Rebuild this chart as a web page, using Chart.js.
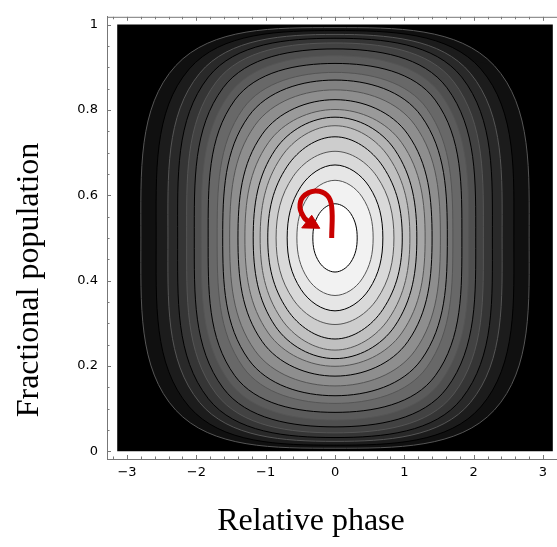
<!DOCTYPE html>
<html>
<head>
<meta charset="utf-8">
<script src="https://cdn.jsdelivr.net/npm/chart.js@4.4.1/dist/chart.umd.min.js"></script>
<style>
  html, body { margin: 0; padding: 0; background: #fff; }
</style>
</head>
<body>
<canvas id="myChart" width="557" height="547"></canvas>
<script>
// plot window: relative phase (rad) x fractional population
const phaseRange = [-3.1416, 3.1416];
const popRange = [0, 1];
// frame sits a little outside the plot window
const axisPhase = [-3.289, 3.202];
const axisPop = [-0.0183, 1.0183];

const xTickVals = [-3, -2, -1, 0, 1, 2, 3];
const xTickLabels = ['−3', '−2', '−1', '0', '1', '2', '3'];
const yTickVals = [0, 0.2, 0.4, 0.6, 0.8, 1];
const yTickLabels = ['0', '0.2', '0.4', '0.6', '0.8', '1'];

// contour lines, inner -> outer
// centre of the pattern
const centerPhase = 0;
const centerPop = 0.5;
// half width in phase along population 0.5
const halfPhase = [0.32, 0.55, 0.69, 0.85, 0.97, 1.08, 1.18, 1.30, 1.40, 1.52,
                   1.62, 1.70, 1.83, 1.93, 2.03, 2.14, 2.27, 2.41, 2.58, 2.80];
// half height in population along phase 0
const halfPop = [0.080, 0.135, 0.171, 0.203, 0.237, 0.263, 0.283, 0.301, 0.324, 0.347,
                 0.370, 0.388, 0.409, 0.427, 0.443, 0.457, 0.468, 0.477, 0.486, 0.493];
// corner point on the diagonal (offset from centre)
const cornerPhase = [0.227, 0.391, 0.490, 0.604, 0.689, 0.778, 0.861, 0.962, 1.050, 1.155,
                     1.247, 1.326, 1.446, 1.525, 1.614, 1.712, 1.827, 1.952, 2.103, 2.296];
const cornerPop = [0.057, 0.096, 0.121, 0.144, 0.168, 0.189, 0.207, 0.223, 0.243, 0.264,
                   0.285, 0.303, 0.323, 0.337, 0.352, 0.366, 0.377, 0.386, 0.396, 0.404];
// gray level of the band just inside each contour
const shade = [255, 242, 230, 217, 205, 192, 180, 167, 154, 142,
               129, 116, 104, 91, 79, 66, 53, 41, 28, 16];

// red arrow
const arrowPhase = [-0.048, -0.048, -0.115, -0.288, -0.462, -0.505, -0.447, -0.389];
const arrowPop = [0.500, 0.573, 0.600, 0.610, 0.596, 0.571, 0.548, 0.539];
const headPhase = [-0.480, -0.336, -0.220, -0.480];
const headPop = [0.5235, 0.553, 0.5225, 0.5235];

function ring(i) {
  const a = halfPhase[i], b = halfPop[i], ca = cornerPhase[i], cb = cornerPop[i];
  const x0 = centerPhase, y0 = centerPop;
  // loop goes round once more past the top so the spline closes smoothly
  return [
    {x: x0 - ca, y: y0 + cb},
    {x: x0, y: y0 + b},
    {x: x0 + ca, y: y0 + cb},
    {x: x0 + a, y: y0},
    {x: x0 + ca, y: y0 - cb},
    {x: x0, y: y0 - b},
    {x: x0 - ca, y: y0 - cb},
    {x: x0 - a, y: y0},
    {x: x0 - ca, y: y0 + cb},
    {x: x0, y: y0 + b},
    {x: x0 + ca, y: y0 + cb}
  ];
}

const datasets = [];

// arrow head and stem on top
datasets.push({
  data: headPhase.map((v, i) => ({x: v, y: headPop[i]})),
  showLine: true, tension: 0, pointRadius: 0,
  borderColor: '#c80000', borderWidth: 1,
  backgroundColor: '#c80000', fill: 'shape'
});
datasets.push({
  data: arrowPhase.map((v, i) => ({x: v, y: arrowPop[i]})),
  showLine: true, tension: 0.4, pointRadius: 0,
  borderColor: '#c80000', borderWidth: 5, borderCapStyle: 'butt',
  fill: false
});

for (let i = 0; i < halfPhase.length; i++) {
  const g = shade[i];
  const lineColor = i % 2 === 0 ? '#000000' : '#555555';
  datasets.push({
    data: ring(i),
    showLine: true, tension: 0.38, pointRadius: 0,
    borderColor: lineColor, borderWidth: 1,
    backgroundColor: 'rgb(' + g + ',' + g + ',' + g + ')',
    fill: 'shape',
    segment: {
      borderColor: c => (c.p0DataIndex === 0 || c.p0DataIndex === 9) ? 'rgba(0,0,0,0)' : lineColor
    }
  });
}

// black plot window underneath everything
datasets.push({
  data: [
    {x: phaseRange[0], y: popRange[0]},
    {x: phaseRange[1], y: popRange[0]},
    {x: phaseRange[1], y: popRange[1]},
    {x: phaseRange[0], y: popRange[1]},
    {x: phaseRange[0], y: popRange[0]}
  ],
  showLine: true, tension: 0, pointRadius: 0, borderWidth: 0,
  backgroundColor: '#000000', fill: 'shape'
});

// inward ticks, top frame line and the two axis titles
const framePlugin = {
  id: 'frame',
  afterDraw(chart) {
    const {ctx, chartArea, scales} = chart;
    const x = scales.x, y = scales.y;
    ctx.save();
    ctx.strokeStyle = '#777777';
    ctx.lineWidth = 1;
    ctx.beginPath();
    ctx.moveTo(chartArea.left, chartArea.top + 0.5);
    ctx.lineTo(chartArea.right, chartArea.top + 0.5);
    for (let i = -16; i <= 16; i++) {
      const px = Math.round(x.getPixelForValue(i / 5)) + 0.5;
      const len = i % 5 === 0 ? 4 : 2.5;
      ctx.moveTo(px, chartArea.bottom);
      ctx.lineTo(px, chartArea.bottom - len);
      ctx.moveTo(px, chartArea.top);
      ctx.lineTo(px, chartArea.top + len);
    }
    for (let i = 0; i <= 20; i++) {
      const py = Math.round(y.getPixelForValue(i / 20)) + 0.5;
      const len = i % 4 === 0 ? 4 : 2.5;
      ctx.moveTo(chartArea.left, py);
      ctx.lineTo(chartArea.left + len, py);
    }
    ctx.stroke();

    ctx.fillStyle = '#000';
    ctx.font = '32px "Liberation Serif", "Times New Roman", serif';
    ctx.textAlign = 'center';
    ctx.textBaseline = 'middle';
    ctx.fillText('Relative phase', 311, 522);
    ctx.translate(30, 280);
    ctx.rotate(-Math.PI / 2);
    ctx.fillText('Fractional population', 0, 0);
    ctx.restore();
  }
};

const config = {
  type: 'scatter',
  data: {datasets: datasets},
  options: {
    responsive: false,
    animation: false,
    events: [],
    layout: {padding: {top: 5, right: 0, left: 0, bottom: 0}},
    plugins: {legend: {display: false}, tooltip: {enabled: false}},
    scales: {
      x: {
        type: 'linear',
        min: axisPhase[0], max: axisPhase[1],
        grid: {display: false, drawTicks: false},
        border: {display: true, color: '#777777', width: 1},
        afterBuildTicks: s => { s.ticks = xTickVals.map(v => ({value: v})); },
        afterFit: s => { s.height = 88; },
        ticks: {
          padding: 6, color: '#000',
          font: {family: '"DejaVu Sans", sans-serif', size: 13},
          callback: (v, i) => xTickLabels[i]
        }
      },
      y: {
        type: 'linear',
        min: axisPop[0], max: axisPop[1],
        grid: {display: false, drawTicks: false},
        border: {display: true, color: '#777777', width: 1},
        afterBuildTicks: s => { s.ticks = yTickVals.map(v => ({value: v})); },
        afterFit: s => { s.width = 107; },
        ticks: {
          padding: 9, color: '#000',
          font: {family: '"DejaVu Sans", sans-serif', size: 13},
          callback: (v, i) => yTickLabels[i]
        }
      }
    }
  },
  plugins: [framePlugin]
};

const myChart = new Chart(document.getElementById('myChart'), config);
</script>
</body>
</html>
